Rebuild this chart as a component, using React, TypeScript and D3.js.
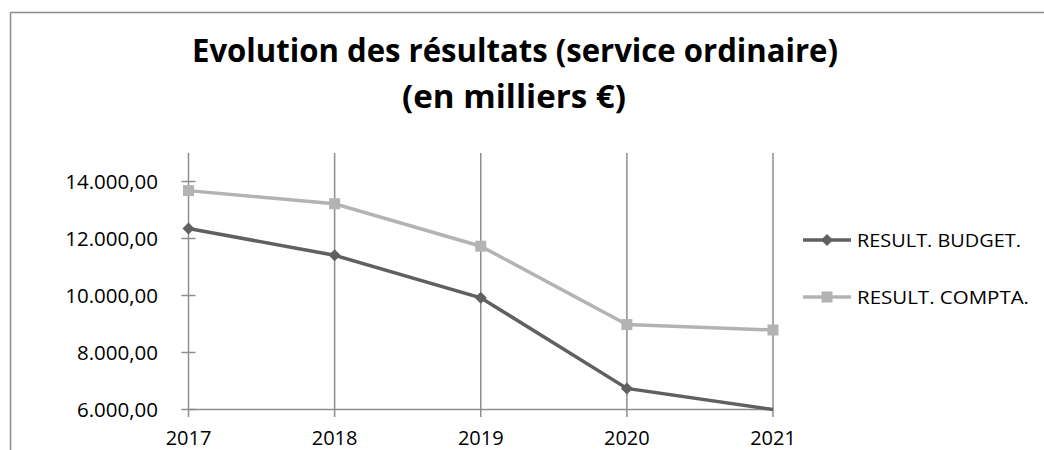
import React from "react";
import * as d3 from "d3";

const years = ["2017", "2018", "2019", "2020", "2021"];
const budget = [12350, 11410, 9920, 6740, 6000];
const compta = [13680, 13220, 11730, 8980, 8790];
const yTicks = [6000, 8000, 10000, 12000, 14000];
const seriesNames = ["RESULT. BUDGET.", "RESULT. COMPTA."];
const titleLines = ["Evolution des résultats (service ordinaire)", "(en milliers €)"];

const W = 1044;
const H = 450;
const cBudget = "#606060";
const cCompta = "#b3b3b3";
const cGrid = "#8e8e8e";
const font = "'Open Sans', sans-serif";

export default function App() {
  const x = d3.scalePoint<string>().domain(years).range([188.5, 773]);
  const y = d3.scaleLinear().domain([6000, 15000]).range([409.5, 153]);
  const fmt = (v: number) => d3.format(",.2f")(v).replace(/,/g, " ").replace(".", ",").replace(/ /g, ".");
  const line = d3
    .line<number>()
    .x((_, i) => x(years[i]) as number)
    .y((d) => y(d));

  const diamond = (cx: number, cy: number, r: number) =>
    `M${cx},${cy - r}L${cx + r},${cy}L${cx},${cy + r}L${cx - r},${cy}Z`;

  return (
    <svg
      width={W}
      height={H}
      style={{ position: "absolute", left: 0, top: 0, background: "#fff" }}
    >
      <rect x={0} y={0} width={W} height={H} fill="#fff" />
      {/* chart frame */}
      <line x1={10.5} y1={12.5} x2={W} y2={12.5} stroke="#8c8c8c" strokeWidth={1.5} />
      <line x1={10.5} y1={12.5} x2={10.5} y2={H} stroke="#8c8c8c" strokeWidth={1.5} />

      {/* title */}
      <text
        x={515}
        y={62}
        textAnchor="middle"
        fontFamily={font}
        fontWeight="bold"
        fontSize={32}
        textLength={646}
        lengthAdjust="spacingAndGlyphs"
        fill="#000"
      >
        {titleLines[0]}
      </text>
      <text
        x={514}
        y={108}
        textAnchor="middle"
        fontFamily={font}
        fontWeight="bold"
        fontSize={32}
        textLength={224}
        lengthAdjust="spacingAndGlyphs"
        fill="#000"
      >
        {titleLines[1]}
      </text>

      {/* vertical gridlines */}
      {years.map((yr) => (
        <line
          key={yr}
          x1={x(yr)}
          x2={x(yr)}
          y1={153}
          y2={417}
          stroke={cGrid}
          strokeWidth={1.5}
        />
      ))}
      {/* x axis */}
      <line x1={x(years[0])} x2={x(years[4])} y1={y(6000)} y2={y(6000)} stroke={cGrid} strokeWidth={1.5} />
      {/* y ticks */}
      {yTicks.map((t) => (
        <g key={t}>
          <line
            x1={(x(years[0]) as number) - 7}
            x2={(x(years[0]) as number) + 7}
            y1={y(t)}
            y2={y(t)}
            stroke={cGrid}
            strokeWidth={1.5}
          />
          <text
            x={158}
            y={y(t) + 7}
            textAnchor="end"
            fontFamily={font}
            fontSize={20.5}
            fill="#000"
          >
            {fmt(t)}
          </text>
        </g>
      ))}
      {/* x labels */}
      {years.map((yr) => (
        <text
          key={yr}
          x={x(yr)}
          y={445}
          textAnchor="middle"
          fontFamily={font}
          fontSize={20}
          fill="#000"
        >
          {yr}
        </text>
      ))}

      {/* series */}
      <path d={line(compta) || ""} fill="none" stroke={cCompta} strokeWidth={3.5} />
      {compta.map((v, i) => (
        <rect
          key={i}
          x={(x(years[i]) as number) - 5.5}
          y={y(v) - 5.5}
          width={11}
          height={11}
          fill={cCompta}
        />
      ))}
      <path d={line(budget) || ""} fill="none" stroke={cBudget} strokeWidth={3.5} />
      {budget.map((v, i) =>
        i < budget.length - 1 ? (
          <path key={i} d={diamond(x(years[i]) as number, y(v), 6)} fill={cBudget} />
        ) : null
      )}

      {/* legend */}
      <g>
        <line x1={803} x2={851} y1={240} y2={240} stroke={cBudget} strokeWidth={3.5} />
        <path d={diamond(827, 240, 6)} fill={cBudget} />
        <text x={857} y={247} fontFamily={font} fontSize={19} textLength={164} lengthAdjust="spacingAndGlyphs" fill="#000">
          {seriesNames[0]}
        </text>
        <line x1={803} x2={851} y1={297} y2={297} stroke={cCompta} strokeWidth={3.5} />
        <rect x={821.5} y={291.5} width={11} height={11} fill={cCompta} />
        <text x={857} y={304} fontFamily={font} fontSize={19} textLength={172} lengthAdjust="spacingAndGlyphs" fill="#000">
          {seriesNames[1]}
        </text>
      </g>
    </svg>
  );
}
